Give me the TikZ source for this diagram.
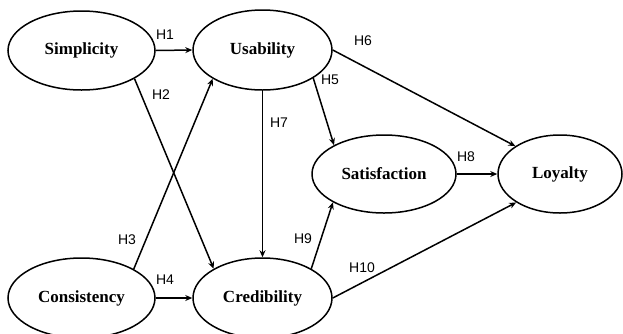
\documentclass[tikz,border=0pt]{standalone}
\usepackage{fontspec}
\setmainfont{Liberation Serif}
\newfontfamily\labfont{Liberation Sans}
\usetikzlibrary{shapes.geometric,arrows.meta}
\begin{document}
\begin{tikzpicture}[x=1pt,y=-1pt,
  construct/.style={ellipse,draw,line width=1.5pt,inner sep=0pt,
    font=\fontsize{17}{20}\selectfont\bfseries},
  path/.style={line width=1.5pt,-{Stealth[length=7pt,width=6pt]}},
  hyp/.style={font=\labfont\fontsize{14}{16}\selectfont,inner sep=0pt}]
\useasboundingbox (0,0) rectangle (623,333);
\node[construct,minimum width=147pt,minimum height=79pt] (simp) at (81.5,50.5) {Simplicity};
\node[construct,minimum width=139pt,minimum height=80pt] (usab) at (262.5,50) {Usability};
\node[construct,minimum width=147pt,minimum height=80pt] (cons) at (81.5,298) {Consistency};
\node[construct,minimum width=139pt,minimum height=80pt] (cred) at (262.5,298) {Credibility};
\node[construct,minimum width=144pt,minimum height=78pt] (sat) at (384,174) {Satisfaction};
\node[construct,minimum width=124pt,minimum height=78pt] (loy) at (560,174) {Loyalty};
\draw[path] (simp.east) -- (usab.west);
\draw[path] (simp.-28.5) -- (cred.149.3);
\draw[path] (cons.29.4) -- (usab.210.4);
\draw[path] (cons.east) -- (cred.west);
\draw[path] (usab.south) -- (cred.north);
\draw[path] (usab.-29.5) -- (sat.150.9);
\draw[path] (usab.east) -- (loy.148.8);
\draw[path] (sat.east) -- (loy.west);
\draw[path] (cred.31.2) -- (sat.209.6);
\draw[path] (cred.east) -- (loy.213);
\node[hyp] (h1) at (165,35) {H1};
\node[hyp] (h2) at (161,95) {H2};
\node[hyp] (h3) at (127,240) {H3};
\node[hyp] (h4) at (165,280) {H4};
\node[hyp] (h5) at (330,80) {H5};
\node[hyp] (h6) at (363,41) {H6};
\node[hyp] (h7) at (279,123) {H7};
\node[hyp] (h8) at (466,157) {H8};
\node[hyp] (h9) at (303,239) {H9};
\node[hyp] (h10) at (362,268) {H10};
\end{tikzpicture}
\end{document}
